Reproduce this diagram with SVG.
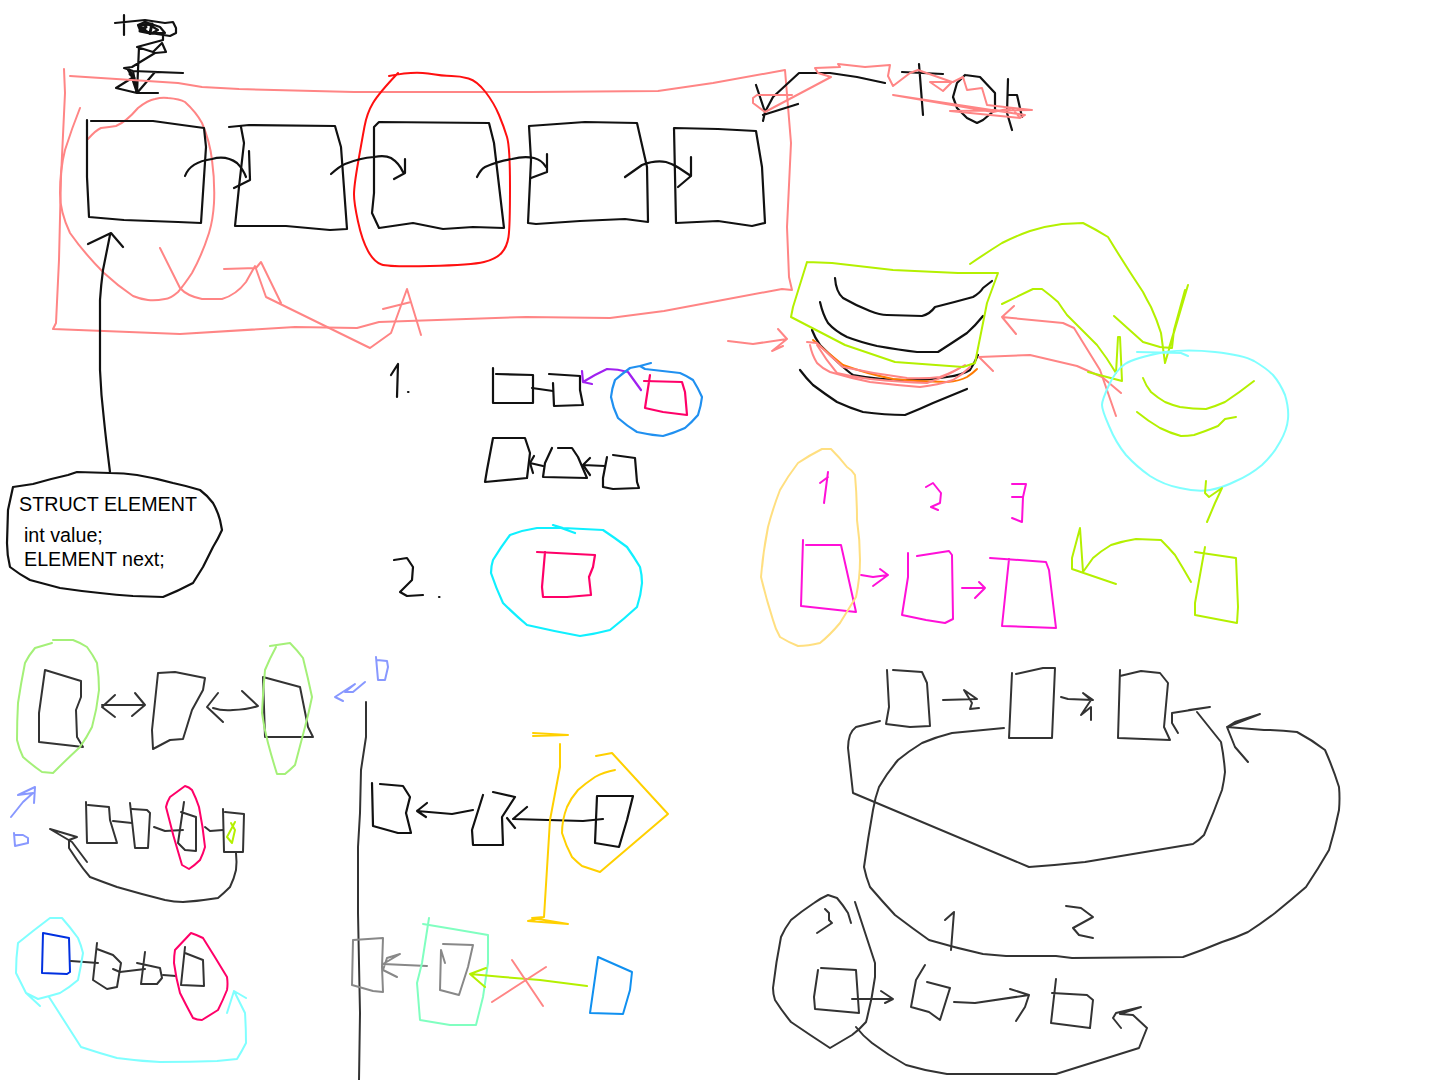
<svg xmlns="http://www.w3.org/2000/svg" width="1440" height="1080" viewBox="0 0 1440 1080">
<style>
path{fill:none;stroke-width:2;stroke-linejoin:round;stroke-linecap:round}
.k path,path.k{stroke:#111;stroke-width:2.2}
.d path{stroke:#333}
.p path,path.p{stroke:#ff8585}
.l path,path.l{stroke:#b4f000}
.c path,path.c{stroke:#80ffff}
.m path{stroke:#ff10d8}
.b path{stroke:#8898ff}
.y path{stroke:#ffd000}
text{font-family:"Liberation Sans",Arial,sans-serif;font-size:19.7px;fill:#000}
</style>
<rect width="1440" height="1080" fill="#fff"/>

<g id="top-scribble" class="k">
<path d="M124 15V35M115 23L145 20L165 23L173 22L176 28L176 33L170 36L150 33L140 30L138 25L145 22L160 27L165 33L150 33L143 30L140 26L148 24L158 30L150 34L143 28"/>
<path style="stroke-width:3" d="M140 25L152 24L150 33L140 31L146 27"/>
<path d="M163 33L163 40L137 47L153 52L162 43L166 52L155 53L132 67L124 68L133 71L183 73L155 72L137 93L116 88L132 78L137 93L158 93M139 47L137 93M133 71L137 93M128 70L136 82"/>
<path style="stroke-width:3" d="M129 70L134 78L130 74"/>
</g>

<g id="top-frame" class="p">
<path d="M64 69L65 93L61 177L59 260L56 323L53 329L180 334L295 327L357 328L379 322L526 317L610 318L664 311L728 299L782 289L792 290L789 277L787 227L791 143L785 70L713 83L658 91L531 92L408 92L354 92L239 89L202 87L178 83L70 76"/>
<path d="M88 139Q96 130 101 128Q110 127 116 126Q126 122 138 108Q148 100 155 99Q162 97 168 98Q180 99 185 102Q196 112 202 123Q210 142 212 160Q215 182 214 203Q213 220 209 233Q202 255 192 273Q184 285 178 292Q170 299 165 299Q155 301 148 300Q140 299 133 296Q118 286 104 273Q84 253 70 233Q60 212 60 193Q60 170 65 150Q72 128 80 108"/>
<path d="M160 248L180 288Q187 296 202 299L222 299Q236 295 246 282L255 266L266 297L370 348L391 333L407 289L421 335M224 269L256 268L261 262L281 303M383 309L411 302"/>
</g>
<g id="red-oval">
<path stroke="#ff1010" d="M389 76Q413 71 428 73.5Q443 76 451.5 76Q460 76 468.5 78.5Q477 81 485.5 92Q494 103 499 115Q504 127 507 137Q510 147 510 187Q510 227 508.5 237Q507 247 501.5 253Q496 259 484 262Q472 265 430 266Q389 267 381.5 264.5Q374 262 368 251Q362 240 358 221.5Q354 203 354 194.5Q354 186 358 163Q362 140 364.5 126.5Q367 113 373 103Q379 93 398 73"/>
</g>
<g id="list-boxes" class="k">
<path d="M91 121L153 121L182 125L204 128L206 147L201 223L178 222L124 220L89 217L87 177L87 120"/>
<path d="M229 127L249 125L335 126L341 147L347 229L330 230L286 226L235 226L239 187L244 143L241 127"/>
<path d="M374 127L379 122L489 123L494 143L504 228L473 227L443 229L413 223L379 228L372 213L374 193L374 127"/>
<path d="M529 126L585 122L637 123L647 167L648 222L625 219L580 221L536 224L528 223L531 160L529 126"/>
<path d="M674 128L718 129L756 131L762 167L765 223L752 226L718 221L676 223L674 128"/>
<path d="M185 176Q190 162 212 159Q226 155 237 163Q243 169 246 177M249 151L250 180L234 188"/>
<path d="M331 174Q340 166 345 164Q360 158 374 157Q385 155 391 158Q399 163 403 172M405 159L405 173L394 179"/>
<path d="M477 177Q481 169 485 167Q498 161 512 159Q524 156 534 158Q542 160 546 167M547 154L547 172L531 178"/>
<path d="M625 177Q635 170 642 165Q655 160 666 162Q673 164 679 168L691 176M691 157L691 176L678 187"/>
</g>
<g id="struct-callout" class="k">
<path d="M110 472Q106 440 104 420Q101 395 100 370L100 300Q101 285 103 270L110 235M88 244L111 233L123 247"/>
<path d="M13 487L33 484Q50 479 68 475L77 472L110 473Q124 473 137 475Q155 478 173 483Q187 486 200 490Q208 496 213 503Q218 512 220 520L222 530Q218 539 213 547Q208 557 203 567Q198 575 193 583Q178 591 163 597L133 596Q116 595 100 593Q80 591 60 588Q45 584 30 580Q19 574 10 567Q7 555 7 543L8 510L13 487"/>
<text x="19" y="511">STRUCT ELEMENT</text>
<text x="24" y="542">int value;</text>
<text x="24" y="566">ELEMENT next;</text>
</g>

<g id="top-word" class="k">
<path d="M756 85L765 112L763 121M765 112L773 97L799 73L830 73L857 77L885 83M763 115L798 104"/>
<path d="M919 64L923 115M902 72L943 74"/>
<path d="M965 75L980 77L995 93L995 110L983 120L977 123L967 118L957 108L953 97L957 83L965 75"/>
<path d="M1008 79L1007 113L1012 130M1008 95L1017 95L1022 117"/>
</g>
<g id="top-word-strike" class="p">
<path d="M792 95L757 95L753 98L753 103L765 112L831 77L818 73L815 68L840 67L838 64L865 67L890 65L888 76L893 86L910 73L918 70L952 82L943 91L930 82L953 82L963 77L967 90L982 88L987 105L1032 110L950 111L1020 118L1025 115L893 95L993 112L1012 108L1020 118"/>
</g>

<g id="hat">
<path class="k" d="M835 278Q836 292 843 298Q855 305 870 311Q880 315 887 315L922 316Q930 314 935 307Q955 302 973 297Q980 293 983 288L992 281"/>
<path class="k" d="M820 302Q823 315 828 323Q835 331 847 337Q860 342 877 346Q900 350 917 352L938 352Q952 343 967 333Q975 326 983 316"/>
<path class="k" d="M812 330Q815 338 820 345Q832 357 843 367Q850 373 853 375Q880 380 907 380Q930 380 947 377Q962 375 970 370Q975 362 978 355"/>
<path class="k" d="M800 370Q806 378 813 385Q825 394 837 402Q850 408 863 412Q885 415 905 415Q920 409 933 403Q950 396 967 389"/>
<path stroke="#ff7a00" d="M813 340Q828 353 843 365Q868 374 893 379Q920 382 947 382Q960 381 967 377Q973 373 977 369"/>
<path class="p" d="M807 342L817 343Q830 356 843 367Q875 374 907 378Q925 379 940 377Q955 371 965 365"/>
<path class="p" d="M810 345Q812 355 817 363Q823 369 830 372Q850 378 870 382Q895 385 920 387Q938 385 953 380Q962 375 970 367"/>
<path class="p" d="M817 345Q826 360 837 373Q853 377 870 379Q900 382 927 383Q945 377 960 368"/>
<path class="l" d="M807 262L832 263L893 270L958 273L998 273L987 303L975 363L963 367L895 362L845 345L791 317L793 307L807 262"/>
<path class="p" d="M728 341L753 344L787 339L778 329L787 339L772 351L783 346"/>
<path class="p" d="M1121 393L1102 377L1077 366L1030 355L979 357L993 371"/>
<path class="p" d="M1116 416L1100 370L1074 328L1063 323L1012 318L1002 317L1014 306M1002 317L1016 334"/>
</g>
<g id="apple" class="l">
<path d="M970 264Q986 253 1002 243Q1016 236 1030 231Q1046 226 1062 224L1083 223Q1095 229 1108 237Q1125 265 1143 292Q1147 300 1151 307Q1157 320 1161 333L1165 363L1188 285L1169 348M1185 290L1174 330L1172 348L1160 347L1143 342L1114 316"/>
<path d="M1002 304L1033 289L1042 289Q1050 295 1058 302Q1062 308 1067 315Q1082 330 1097 345Q1107 358 1116 373L1118 337L1120 337L1122 381L1088 372"/>
<path d="M1143 378Q1146 386 1151 392Q1158 398 1165 402Q1172 405 1180 407Q1193 409 1206 409Q1216 406 1225 402Q1240 392 1254 381"/>
<path d="M1137 412Q1148 421 1160 428Q1170 433 1181 436Q1188 436 1194 435Q1206 431 1218 426Q1222 422 1225 419L1236 417"/>
<path class="c" d="M1188 356L1181 353L1137 352M1165 352Q1188 349 1215 352Q1243 355 1254 361Q1266 368 1273 375Q1280 383 1285 395Q1289 408 1288 419Q1287 430 1280 442Q1273 455 1262 465Q1250 475 1236 481Q1222 488 1210 490Q1197 492 1180 488Q1164 485 1150 476Q1137 467 1126 455Q1116 443 1109 426Q1102 410 1102 405Q1102 400 1109 385Q1116 370 1125 364Q1134 358 1165 352"/>
<path d="M1206 481L1205 493L1209 497L1222 488L1215 503L1207 522"/>
<path d="M1195 552L1236 558L1238 607L1237 623L1195 615L1195 603L1205 547"/>
<path d="M1191 582Q1183 568 1175 555Q1168 547 1161 540L1136 539Q1123 541 1111 545Q1101 551 1093 558L1083 572L1080 528L1072 558L1072 569L1116 584"/>
</g>
<g id="numbered-list" class="m">
<path d="M828 472L824 503M820 483L828 477"/>
<path d="M926 487L933 483L941 493L940 503L931 507L938 510"/>
<path d="M1012 484L1026 484L1023 497L1012 497L1023 497L1022 522L1012 518"/>
<path d="M803 540L801 606L856 612L841 545L806 545"/>
<path d="M861 575L873 577L888 575L880 569M888 575L873 586"/>
<path d="M908 553L908 577L902 615L926 620L945 623L953 619L952 555L949 551L917 556"/>
<path d="M962 588L985 588L979 582M985 588L975 598"/>
<path d="M990 558L1046 562L1049 570L1056 628L1002 626L1009 559"/>
<path style="stroke:#ffdf80" d="M822 449L831 449Q840 458 847 467Q852 470 855 475Q857 497 857 520Q860 540 860 560Q860 578 856 597Q848 610 840 623Q830 635 820 643Q808 646 798 646Q788 642 780 637Q775 628 773 620Q766 598 761 577Q763 552 768 527Q773 508 780 490Q788 476 798 463Q810 455 822 449"/>
</g>

<g id="step-1" class="k">
<path d="M391 375L398 364L397 397"/>
<path d="M408 392h.5"/>
<path d="M493 368L493 403L533 403L533 375L496 374"/>
<path d="M532 388L553 391"/>
<path d="M549 374L580 376L580 390L583 405L554 406L553 383"/>
<path style="stroke:#a020f0" d="M641 390L628 372Q618 369 607 369Q594 375 583 382L582 371M583 382L592 384"/>
<path style="stroke:#2090f0" d="M651 363L640 366L645 369Q662 371 680 373Q687 376 693 380Q698 388 702 397Q701 406 698 415Q692 422 685 428Q674 433 663 436Q650 435 637 432Q627 426 618 418Q613 408 611 397Q612 388 615 380Q622 374 630 368Q635 367 640 366"/>
<path style="stroke:#ff0068" d="M644 381L682 382L685 392L687 415L663 412L645 408L650 375"/>
<path d="M493 438L525 438L530 453L527 478L485 482L487 470L493 438"/>
<path d="M543 466L530 463L534 456M530 463L533 473"/>
<path d="M552 448L545 463L543 477L587 478L578 457L572 448L558 448"/>
<path d="M590 475L583 465L590 458M583 465L605 466"/>
<path d="M607 457L603 478L603 487L613 489L639 488L637 482L635 458L613 455"/>
</g>
<g id="step-2" class="k">
<path d="M394 560L407 558L413 567L412 580L400 592L407 596L423 595"/>
<path d="M439 597h.5"/>
<path style="stroke:#10f0ff" d="M575 533L553 525L563 528Q583 529 603 530Q615 538 627 547Q634 557 640 567Q642 575 642 583Q641 595 637 607Q624 619 610 630Q595 634 580 636Q553 631 527 625Q514 614 503 603Q496 588 491 573Q491 566 493 560Q501 547 510 535Q523 530 537 528L563 528"/>
<path style="stroke:#ff0068" d="M537 552L595 555L593 567L589 577L591 595L567 597L543 597L542 587L545 552"/>
</g>

<g id="row-a" class="d">
<path d="M45 670L81 681L81 697L76 710L77 737L83 747L39 742L39 713L45 670"/>
<path d="M115 695L102 707L115 717M102 705L145 705L135 693M145 705L132 716"/>
<path d="M158 673L175 672L205 678L203 690L192 710L183 739L170 740L153 749L152 730L158 673"/>
<path d="M218 693L207 707L223 722M213 708Q222 711 233 710Q246 710 258 706L242 691"/>
<path d="M263 677L300 687L308 727L313 737L265 737L263 677"/>
<path style="stroke:#a4f078" d="M53 640L73 640Q81 643 87 647Q93 655 97 663Q99 677 99 690Q97 709 92 727Q87 737 80 747Q66 760 53 773L42 772Q32 765 23 757Q19 749 17 740Q17 721 18 703Q21 683 25 663Q29 655 35 648L52 643"/>
<path style="stroke:#a4f078" d="M270 646L290 643Q297 650 303 658Q308 678 312 697Q309 712 305 727Q300 746 295 765Q290 770 285 774L277 774Q272 758 268 743Q264 728 262 713Q263 691 265 670Q270 658 276 647"/>
</g>
<g id="pointers" class="b">
<path d="M376 657L378 680L385 680L388 667L387 661L377 660"/>
<path d="M365 682L353 692L345 692L355 684L335 697L343 701"/>
<path d="M11 817L23 802L33 793L18 795L35 787L34 803"/>
<path d="M14 833L15 846L28 843L28 838L23 835L15 835"/>
</g>
<g id="row-b" class="d">
<path d="M86 802L87 843L117 843L110 820L109 807L88 805"/>
<path d="M113 821L132 823"/>
<path d="M130 803L135 848L148 848L150 813L147 810L132 809"/>
<path d="M154 827L165 831L183 830"/>
<path d="M184 802L178 843L185 850L196 851L196 817L181 812"/>
<path d="M205 827L210 831L223 830"/>
<path d="M223 809L224 852L243 852L244 814L225 812"/>
<path style="stroke:#b4f000" d="M235 822L227 837L232 843L235 830L231 823"/>
<path style="stroke:#ff0068" d="M185 786Q189 787 192 790Q196 798 199 807Q203 827 205 847Q203 854 200 860Q195 865 189 869L182 865Q173 836 166 807Q167 802 170 797L185 786"/>
<path d="M236 853Q237 862 236 870Q234 879 230 887Q224 893 218 898Q200 901 183 902Q174 902 165 900Q141 894 117 887Q103 882 90 877Q83 869 77 860Q73 854 69 848L69 840L77 837L50 829L72 842L87 862"/>
</g>
<g id="row-c" class="d">
<path style="stroke:#0030e0" d="M43 933L69 938L70 972L67 974L42 973L43 933"/>
<path d="M71 961L98 963"/>
<path d="M97 943L93 980L107 989L117 987L121 963L113 955L97 949"/>
<path d="M113 969L120 972L145 969"/>
<path d="M145 952L141 984L157 984L162 978L160 968L137 963"/>
<path d="M163 975L176 976"/>
<path d="M185 947L181 985L204 986L203 960L185 953"/>
<path style="stroke:#ff0068" d="M191 933Q197 935 203 938Q215 957 227 977Q228 984 227 990Q223 1000 218 1010Q210 1015 202 1020Q197 1020 193 1018Q186 1005 180 993Q176 978 174 963Q174 956 175 950L191 933"/>
<path style="stroke:#80ffff" d="M26 993L40 1006M26 993L38 999Q50 996 60 993Q70 987 78 980Q81 966 83 953Q81 945 78 938Q70 927 62 918L50 918Q34 930 18 943Q16 958 16 973L26 993"/>
<path style="stroke:#80ffff" d="M49 997L81 1047Q99 1053 117 1058Q138 1061 160 1062Q190 1062 217 1061L237 1059Q242 1051 246 1043Q246 1028 245 1013L234 991L227 1013M234 991L246 998"/>
</g>

<path id="divider" stroke="#333" d="M366 702L366 737L361 770L360 813L358 847L358 913L360 1013L359 1080"/>

<g id="middle-top" class="k">
<path d="M372 783L373 826L398 833L411 833L406 813L410 797L403 786L380 784"/>
<path d="M473 810L452 814L417 811L427 803M417 811L426 817"/>
<path d="M483 795L472 830L473 845L503 845L502 817L515 797L493 792"/>
<path d="M603 819L583 821L513 819L527 807M507 818L515 828"/>
<path d="M597 796L633 796L627 820L619 847L595 843L597 796"/>
</g>
<g id="middle-yellow" class="y">
<path d="M533 733L568 735L533 736"/>
<path d="M560 744L560 767L550 820L544 917L528 921L568 924L532 918L544 917"/>
<path d="M615 770Q604 772 595 777Q586 783 578 790Q571 798 567 807Q562 820 562 833Q566 846 572 857Q577 862 582 866L600 872L668 814L612 753L596 756"/>
</g>
<g id="middle-bottom">
<path stroke="#888" d="M353 940L383 938L382 967L383 992L373 991L352 985L353 940"/>
<path stroke="#888" d="M427 966L383 964L400 954L387 958L383 970L397 977"/>
<path stroke="#80ffc0" d="M423 924L453 929L488 935L488 963L483 997L476 1025L450 1025L420 1020L417 983L422 963L429 918"/>
<path stroke="#888" d="M443 944L473 945L468 967L459 995L440 990L441 950L445 963"/>
<path stroke="#b4f000" d="M587 986L540 980L503 977L470 974L486 968M470 974L485 987"/>
<path stroke="#ff8585" d="M512 960L543 1006M546 967L492 1002"/>
<path stroke="#1090f0" d="M598 957L632 972L630 990L623 1014L590 1013L598 957"/>
</g>

<g id="circular-list" class="d">
<path d="M887 670L889 707L886 724L910 727L930 726L927 683L922 672L893 670"/>
<path d="M943 700L977 699L964 690L972 703L970 709L979 708"/>
<path d="M1012 673L1009 738L1052 738L1055 668L1043 668L1016 674"/>
<path d="M1061 697L1068 699L1093 700L1083 693L1091 700L1081 715L1091 707L1091 720"/>
<path d="M1120 670L1118 738L1170 740L1164 727L1168 683L1160 673L1141 671L1120 676"/>
<path d="M1178 733L1172 723L1172 713L1210 707L1189 710"/>
<path d="M880 721L856 727Q852 730 850 735Q848 741 848 748L853 793L1029 867Q1057 865 1085 862L1193 844Q1199 840 1204 835Q1214 812 1222 790Q1224 781 1225 772Q1224 757 1221 742L1197 712"/>
<path d="M1004 728L952 733Q936 737 922 743Q909 751 898 760Q887 773 879 787Q875 798 873 810Q868 838 864 867Q866 877 870 887Q882 901 895 915Q912 928 929 940Q956 948 983 954L1006 956L1056 956L1072 958L1183 957Q1203 950 1222 942Q1235 938 1248 932Q1262 923 1275 913Q1291 900 1306 887Q1318 869 1329 850Q1335 830 1339 810Q1340 798 1339 787Q1333 768 1325 750Q1312 740 1297 732Q1280 730 1264 730L1227 727L1260 714L1235 722L1227 727L1235 747L1248 762"/>
<path d="M945 920L954 912L951 950"/>
<path d="M1066 906L1081 908L1093 917L1073 928L1079 935L1093 938"/>
</g>
<g id="bottom-list" class="d">
<path d="M825 909L829 913L829 920L832 923L817 933"/>
<path d="M851 923L848 913Q843 905 837 898L828 895Q821 898 814 903Q802 911 791 920Q785 928 781 937Q776 962 773 988Q773 994 775 1000Q782 1011 791 1022Q810 1035 830 1048L852 1035Q860 1029 866 1022Q872 1000 875 977L875 963L855 902"/>
<path d="M821 968L856 970L859 1013L815 1009L814 997L818 970"/>
<path d="M852 999L893 999L881 991M893 999L885 1003"/>
<path d="M925 965L916 980L911 1007L929 1012L940 1020L950 988L927 982"/>
<path d="M954 1002L975 1003L1029 995L1010 989M1029 995L1025 1007L1016 1021"/>
<path d="M1056 979L1051 1023L1090 1028L1093 1000L1087 995L1052 993"/>
<path d="M856 1027Q863 1036 872 1043Q888 1055 906 1065Q926 1071 947 1074L1056 1074L1139 1048L1147 1028L1133 1015L1120 1014L1141 1007L1116 1013L1113 1018L1121 1028"/>
</g>
</svg>
